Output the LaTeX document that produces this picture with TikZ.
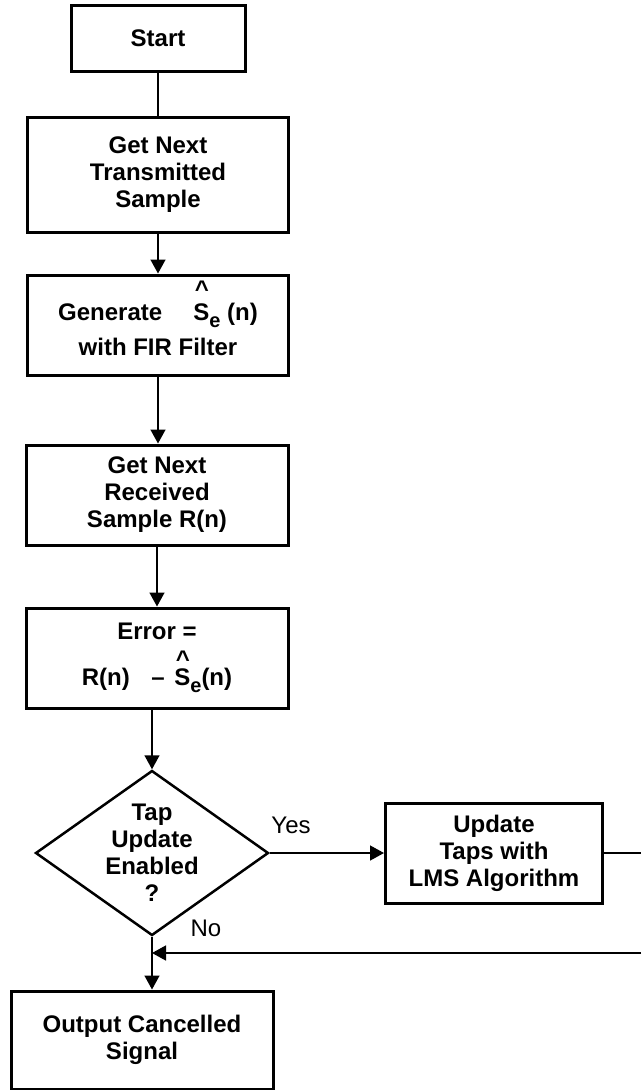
\documentclass[tikz,border=0pt]{standalone}
\usepackage{fontspec}
\setmainfont{Liberation Sans}
\usetikzlibrary{arrows.meta,shapes.geometric}
\newcommand{\Shat}[2][0.95em]{\leavevmode\rlap{\raisebox{#1}[#2][0pt]{\hspace{0.06em}\textasciicircum}}S\raisebox{-0.3em}{\fontsize{20}{20}\selectfont e}}

\begin{document}
\begin{tikzpicture}[x=1pt, y=-1pt, every node/.style={font=\fontsize{24}{27}\selectfont\bfseries, align=center},
box/.style={draw, line width=3pt, inner sep=0pt},
link/.style={line width=1.5pt, -{Triangle[length=14pt,width=15pt]}}]
\useasboundingbox (0,0) rectangle (641,1090);

\node[box, minimum width=174, minimum height=66] (start) at (158,38) {Start};
\node[box, minimum width=261, minimum height=115] (trans) at (158,175) {Get Next\\Transmitted\\Sample};
\node[box, minimum width=261, minimum height=100] (gen) at (158,325) {Generate\hspace{1.3em}\Shat{1.1em}\ (n)\\[8pt]with FIR Filter};
\node[box, minimum width=262, minimum height=100] (recv) at (157,495) {Get Next\\Received\\Sample R(n)};
\node[box, minimum width=262, minimum height=100] (err) at (157,658) {Error =\\[19pt]R(n)\hspace{0.9em}--\hspace{0.4em}\Shat[0.74em]{0pt}(n)};
\node[diamond, draw, line width=2.5pt, inner sep=0pt, minimum width=233, minimum height=165,
  label={center:{Tap\\Update\\Enabled\\?}}] (tap) at (152,853) {};
\node[box, minimum width=217, minimum height=100] (upd) at (494,853) {Update\\Taps with\\LMS Algorithm};
\node[box, minimum width=262, minimum height=98] (out) at (142,1040) {Output Cancelled\\Signal};
\node[font=\fontsize{24}{27}\selectfont] (yes) at (291,825) {Yes};
\node[font=\fontsize{24}{27}\selectfont] (no) at (206,928) {No};
\coordinate (ret) at (641,953);

\draw[line width=1.5pt] (start.south) -- (start.south |- trans.north);
\draw[link] (trans.south) -- (trans.south |- gen.north);
\draw[link] (gen.south) -- (gen.south |- recv.north);
\draw[link] (recv.south) -- (recv.south |- err.north);
\draw[link] (tap.north |- err.south) -- (tap.north);
\draw[link] (tap.east) -- (upd.west);
\draw[link] (tap.south) -- (tap.south |- out.north);
\draw[line width=1.5pt] (upd.east) -- (upd.east -| ret);
\draw[link] (ret) -- (ret -| tap.south);
\end{tikzpicture}
\end{document}
